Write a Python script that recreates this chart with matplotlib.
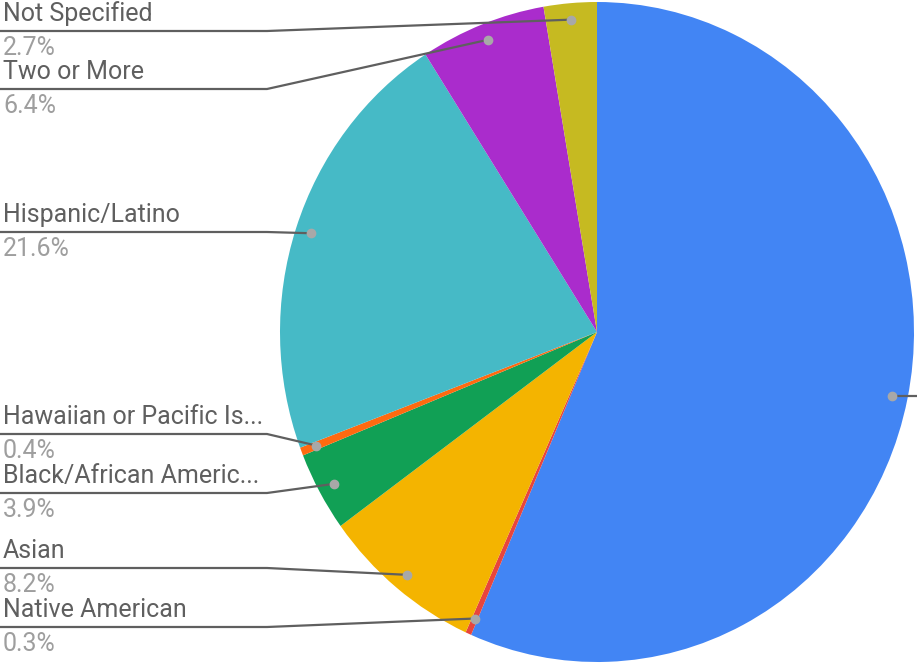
import matplotlib
matplotlib.use("Agg")
import matplotlib.pyplot as plt
import numpy as np

plt.rcParams["font.family"] = ["Roboto", "DejaVu Sans"]

# --- data ---
categories = ["White", "Native American", "Asian", "Black/African Americ...",
              "Hawaiian or Pacific Is...", "Hispanic/Latino", "Two or More",
              "Not Specified"]
shares = [56.5, 0.3, 8.2, 3.9, 0.4, 21.6, 6.4, 2.7]
colors = ["#4285f4", "#e8453c", "#f4b400", "#11a055", "#ff6a10",
          "#46bac6", "#aa2ccc", "#c6ba21"]

# label rows on the left (pixel y of the underline), None = off to the right
label_rows = [None, 627, 568, 493, 434, 232, 89, 31]

W, H = 917, 663
cx, cy = 597, 332      # pie centre in pixels
rx, ry = 317, 330      # horizontal / vertical radius in pixels

fig = plt.figure(figsize=(W / 100, H / 100), dpi=100)
fig.patch.set_facecolor("white")

# pie axes: unit radius, stretched to rx/ry pixels
ax = fig.add_axes([0, 0, 1, 1])
ax.pie(shares, colors=colors, startangle=90, counterclock=False,
       radius=1, wedgeprops=dict(linewidth=0))
ax.set_aspect("auto")
ax.set_xlim(-cx / rx, (W - cx) / rx)
ax.set_ylim((cy - H) / ry, cy / ry)
ax.axis("off")

# overlay in pixel coordinates for leader lines and labels
ov = fig.add_axes([0, 0, 1, 1], facecolor="none")
ov.set_xlim(0, W)
ov.set_ylim(H, 0)
ov.axis("off")

name_col = "#5f5f5f"
pct_col = "#9e9e9e"
bend_x = 267

total = sum(shares)
start = 90.0
for name, val, row in zip(categories, shares, label_rows):
    sweep = val / total * 360
    mid = np.deg2rad(start - sweep / 2)
    start -= sweep
    dx = cx + 0.95 * rx * np.cos(mid)
    dy = cy - 0.95 * ry * np.sin(mid)
    if row is None:
        ov.plot([dx, W + 20], [dy, dy], color=name_col, lw=1.6,
                solid_capstyle="butt", clip_on=False)
    else:
        ov.plot([0, bend_x, dx], [row, row, dy], color=name_col, lw=1.6,
                solid_capstyle="butt")
        ov.text(3, row - 5, name, ha="left", va="bottom", fontsize=18,
                color=name_col)
        ov.text(3, row + 5, f"{val:.1f}%", ha="left", va="top",
                fontsize=18, color=pct_col)
    ov.plot(dx, dy, "o", markersize=6, color="#a8a8a8", zorder=5)

fig.savefig("out.png", dpi=100, facecolor="white")
